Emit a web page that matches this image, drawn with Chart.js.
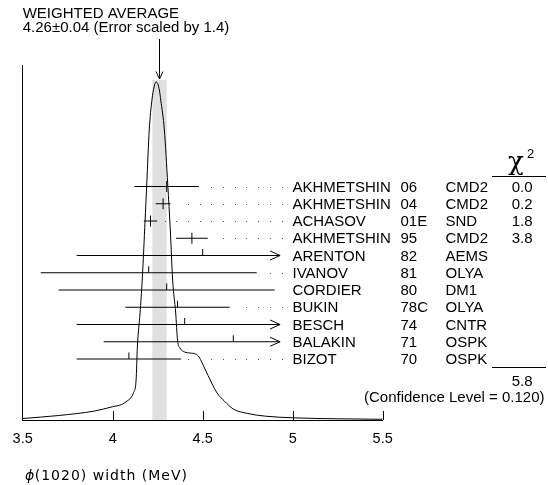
<!DOCTYPE html>
<html><head><meta charset="utf-8">
<script src="https://cdn.jsdelivr.net/npm/chart.js@4/dist/chart.umd.min.js"></script>
<style>html,body{margin:0;padding:0;background:#fff;overflow:hidden}canvas{display:block}</style>
</head><body>
<canvas id="c" width="548" height="485"></canvas>
<script>
// ---- data ----
const authors = ['AKHMETSHIN','AKHMETSHIN','ACHASOV','AKHMETSHIN','ARENTON','IVANOV','CORDIER','BUKIN','BESCH','BALAKIN','BIZOT'];
const years = ['06','04','01E','95','82','81','80','78C','74','71','70'];
const experiments = ['CMD2','CMD2','SND','CMD2','AEMS','OLYA','DM1','OLYA','CNTR','OSPK','OSPK'];
const chi2Values = ['0.0','0.2','1.8','3.8','','','','','','',''];
const widths = [4.30, 4.28, 4.21, 4.44, 4.5, 4.2, 4.3, 4.36, 4.4, 4.67, 4.09];
const widthErrors = [0.18, 0.041, 0.037, 0.088, 0.7, 0.6, 0.6, 0.29, 0.6, 0.72, 0.29];
const usedInAverage = [true, true, true, true, false, false, false, false, false, false, false];
const chi2Total = '5.8';
const confidenceLevel = '0.120';
const avgValue = 4.26, avgError = 0.04, errorScale = 1.4;
const xTicks = [3.5, 4, 4.5, 5, 5.5];
// ideogram curve (height in arbitrary units)
const curveX = [3.50,3.70,3.90,4.00,4.05,4.08,4.10,4.115,4.13,4.137,4.152,4.164,4.18,4.189,4.203,4.218,4.23,4.24,4.25,4.26,4.267,4.287,4.306,4.32,4.333,4.35,4.36,4.374,4.40,4.43,4.46,4.48,4.51,4.55,4.58,4.62,4.67,4.75,4.85,5.00,5.25,5.50];
const curveH = [1.5,4.5,9,13.3,15.5,19,22,27,40,73,107,140,200,235,290,320,333,338,336.5,329,320,290,235,190,140,107,80,72,68,67,66,63,52,37,27,19,11,6.5,3.8,2.2,1.2,0.7];

// ---- layout constants ----
const CLIP_MAX = 4.93;      // where arrows end
const BAND_TOP = 340;       // height of shaded band (curve units)
const FONT = '"Liberation Sans", Arial, sans-serif';

const rowIdx = authors.map((_, i) => i);
const datasets = [{
  type: 'line', label: 'ideogram',
  data: curveX.map((v, i) => ({x: v, y: curveH[i]})),
  borderColor: '#000', borderWidth: 1, pointRadius: 0,
  cubicInterpolationMode: 'monotone', yAxisID: 'y', fill: false
}];
rowIdx.forEach(i => {
  const lo = Math.max(3.5, widths[i] - widthErrors[i]);
  const hi = Math.min(CLIP_MAX, widths[i] + widthErrors[i]);
  datasets.push({
    type: 'line', label: authors[i] + ' ' + years[i],
    data: [{x: lo, y: i}, {x: hi, y: i}],
    borderColor: '#000', borderWidth: 1, pointRadius: 0, yAxisID: 'yr', fill: false
  });
});

const ideogram = {
  id: 'ideogram',
  beforeDatasetsDraw(chart) {
    const {ctx, scales: {x, y}} = chart;
    const x0 = x.getPixelForValue(avgValue - avgError), x1 = x.getPixelForValue(avgValue + avgError);
    const yt = y.getPixelForValue(BAND_TOP), yb = y.getPixelForValue(0);
    ctx.save();
    ctx.fillStyle = '#e0e0e0';
    ctx.fillRect(x0, yt, x1 - x0, yb - yt);
    ctx.restore();
  },
  afterDraw(chart) {
    const {ctx, scales: {x, y, yr}} = chart;
    const area = chart.chartArea;
    ctx.save();
    ctx.strokeStyle = '#000'; ctx.fillStyle = '#000'; ctx.lineWidth = 1;
    // inward tick marks on x axis
    xTicks.slice(1).forEach(v => {
      const px = Math.round(x.getPixelForValue(v)) + 0.5;
      ctx.beginPath(); ctx.moveTo(px, area.bottom); ctx.lineTo(px, area.bottom - 9); ctx.stroke();
    });
    // central value markers, arrows, leader dots
    const labelX = 292.5;
    rowIdx.forEach(i => {
      const py = yr.getPixelForValue(i);
      const cx = x.getPixelForValue(widths[i]);
      ctx.beginPath();
      if (usedInAverage[i]) { ctx.moveTo(cx, py - 5.5); ctx.lineTo(cx, py + 5.5); }
      else { ctx.moveTo(cx, py); ctx.lineTo(cx, py - 6.5); }
      ctx.stroke();
      const hiV = widths[i] + widthErrors[i];
      const endPx = x.getPixelForValue(Math.min(CLIP_MAX, hiV));
      if (hiV > CLIP_MAX) {
        ctx.beginPath();
        ctx.moveTo(endPx - 10, py - 4.5); ctx.lineTo(endPx, py); ctx.lineTo(endPx - 10, py + 4.5);
        ctx.stroke();
      } else {
        ctx.fillStyle = '#555';
        for (let dx = labelX - 11; dx > endPx + 7; dx -= 11.67) {
          ctx.fillRect(Math.round(dx), Math.round(py), 1, 1);
        }
        ctx.fillStyle = '#000';
      }
    });
    // row labels
    ctx.font = '15px ' + FONT;
    ctx.textBaseline = 'middle';
    rowIdx.forEach(i => {
      const py = yr.getPixelForValue(i) + 1;
      ctx.textAlign = 'left';
      ctx.fillText(authors[i], labelX, py);
      ctx.fillText(years[i], 400.5, py);
      ctx.fillText(experiments[i], 445.5, py);
      ctx.textAlign = 'right';
      if (chi2Values[i]) ctx.fillText(chi2Values[i], 532.5, py);
    });
    // chi2 header
    ctx.textAlign = 'left'; ctx.textBaseline = 'alphabetic';
    ctx.font = '26px "DejaVu Serif", serif';
    ctx.fillText('χ', 508, 170);
    ctx.font = '13px ' + FONT;
    ctx.fillText('2', 527, 158);
    ctx.beginPath(); ctx.moveTo(492, 176.5); ctx.lineTo(546, 176.5); ctx.stroke();
    ctx.beginPath(); ctx.moveTo(492, 367.5); ctx.lineTo(546, 367.5); ctx.stroke();
    ctx.font = '15px ' + FONT; ctx.textAlign = 'right'; ctx.textBaseline = 'middle';
    ctx.fillText(chi2Total, 532.5, 381.5);
    ctx.fillText('(Confidence Level = ' + confidenceLevel + ')', 544.5, 397.5);
    // weighted average text + arrow
    ctx.textAlign = 'left'; ctx.textBaseline = 'alphabetic';
    ctx.fillText('WEIGHTED AVERAGE', 22.7, 17.5);
    ctx.fillText(avgValue.toFixed(2) + '±' + avgError.toFixed(2) + ' (Error scaled by ' + errorScale + ')', 22.7, 31.5);
    const ax = Math.round(x.getPixelForValue(avgValue)) + 0.5;
    ctx.beginPath(); ctx.moveTo(ax, 39); ctx.lineTo(ax, 79); ctx.stroke();
    ctx.beginPath(); ctx.moveTo(ax - 3.5, 71.5); ctx.lineTo(ax, 79); ctx.lineTo(ax + 3.5, 71.5); ctx.stroke();
    // x axis title
    ctx.textBaseline = 'middle';
    ctx.font = 'italic 14px "DejaVu Sans", sans-serif';
    ctx.fillText('ϕ', 25, 476);
    const pw = ctx.measureText('ϕ').width;
    ctx.font = '14px "DejaVu Sans", sans-serif';
    try { ctx.letterSpacing = '1px'; } catch (e) {}
    ctx.fillText('(1020) width (MeV)', 25 + pw + 0.5, 476);
    ctx.restore();
  }
};

new Chart(document.getElementById('c'), {
  type: 'line',
  data: { datasets },
  options: {
    responsive: false, animation: false, devicePixelRatio: 1,
    layout: { padding: { left: 22.7, right: 165.3, top: 65, bottom: 0 } },
    plugins: { legend: { display: false }, tooltip: { enabled: false } },
    scales: {
      x: {
        type: 'linear', min: 3.5, max: 5.5,
        afterBuildTicks: s => { s.ticks = xTicks.map(v => ({value: v})); },
        afterFit: s => { s.height = 65; },
        grid: { display: false, drawTicks: false },
        border: { display: true, color: '#000', width: 1 },
        ticks: { color: '#000', font: { size: 14.5, family: FONT }, padding: 10, autoSkip: false, maxRotation: 0,
                 callback: v => String(v) }
      },
      y: {
        type: 'linear', min: 0, max: 355, position: 'left',
        afterFit: s => { s.width = 0; },
        grid: { display: false, drawTicks: false },
        border: { display: true, color: '#000', width: 1 },
        ticks: { display: false }
      },
      yr: {
        type: 'linear', reverse: true, min: -7.0435, max: 13.5362, display: false
      }
    }
  },
  plugins: [ideogram]
});
</script>
</body></html>
